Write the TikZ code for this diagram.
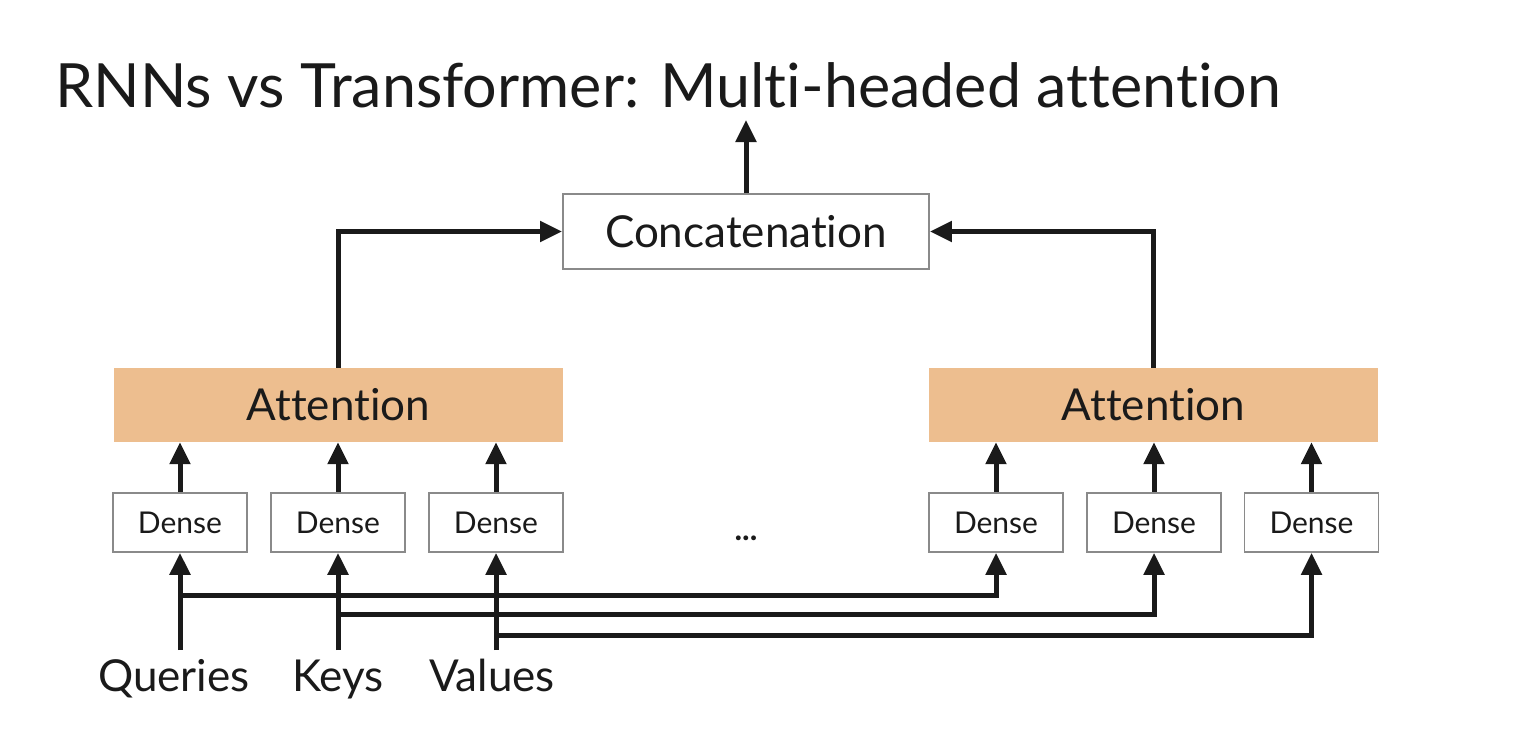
\documentclass[tikz,border=0pt]{standalone}
\usepackage{fontspec}
\setmainfont{Lato}[Ligatures={NoCommon,NoRare}]
\usetikzlibrary{arrows.meta}
\definecolor{attn}{HTML}{EDBE8F}
\definecolor{boxline}{HTML}{8A8A8A}
\definecolor{ink}{HTML}{1A1A1A}
\tikzset{
  conn/.style={line width=5pt, draw=ink, -{Triangle[length=22pt,width=20pt]}},
  densebox/.style={draw=boxline, line width=1.6pt, fill=white, minimum width=134pt, minimum height=59pt, inner sep=0pt, font=\fontsize{30}{36}\selectfont, text=ink},
  attnbox/.style={fill=attn, minimum width=449pt, minimum height=74pt, inner sep=0pt, font=\fontsize{44}{52}\selectfont, text=ink},
  concatbox/.style={draw=boxline, line width=1.8pt, fill=white, minimum width=366pt, minimum height=75pt, inner sep=0pt, font=\fontsize{44}{52}\selectfont, text=ink},
  inlabel/.style={font=\fontsize{44}{52}\selectfont, text=ink, anchor=base}
}
\begin{document}
\begin{tikzpicture}[x=1pt,y=-1pt]
\useasboundingbox (0,0) rectangle (1540,736);
\node[anchor=base west, font=\fontsize{61}{71}\selectfont, text=ink, inner sep=0pt] (title) at (55,107) {RNNs vs Transformer: Multi-headed attention};

\node[concatbox] (concat) at (746,231.5) {Concatenation};
\coordinate (out) at (746,120);

\node[attnbox] (attL) at (338.5,405) {Attention};
\node[attnbox] (attR) at (1153.5,405) {Attention};

\node[densebox] (d1) at (180,522.5) {Dense};
\node[densebox] (d2) at (338,522.5) {Dense};
\node[densebox] (d3) at (496,522.5) {Dense};
\node[densebox] (d4) at (996,522.5) {Dense};
\node[densebox] (d5) at (1154,522.5) {Dense};
\node[densebox] (d6) at (1311.5,522.5) {Dense};

\node[font=\fontsize{32}{38}\selectfont\bfseries, text=ink, anchor=base] (dots) at (746,540) {...};

\node[inlabel] (q) at (174,691) {Queries};
\node[inlabel] (k) at (338,691) {Keys};
\node[inlabel] (v) at (492,691) {Values};

\coordinate (qs) at (180,650);
\coordinate (ks) at (338,650);
\coordinate (vs) at (496,650);

% outputs
\draw[conn] (concat.north) -- (out);
\draw[conn] (attL.north) |- (concat.west);
\draw[conn] (attR.north) |- (concat.east);

% dense to attention
\foreach \d in {d1,d2,d3} \draw[conn] (\d.north) -- (\d.north |- attL.south);
\foreach \d in {d4,d5,d6} \draw[conn] (\d.north) -- (\d.north |- attR.south);

% inputs
\draw[conn] (qs) -- (d1.south);
\draw[conn] (ks) -- (d2.south);
\draw[conn] (vs) -- (d3.south);
\draw[conn] (180,595) -| (d4.south);
\draw[conn] (338,614) -| (d5.south);
\draw[conn] (496,635) -| (d6.south);
\end{tikzpicture}
\end{document}
